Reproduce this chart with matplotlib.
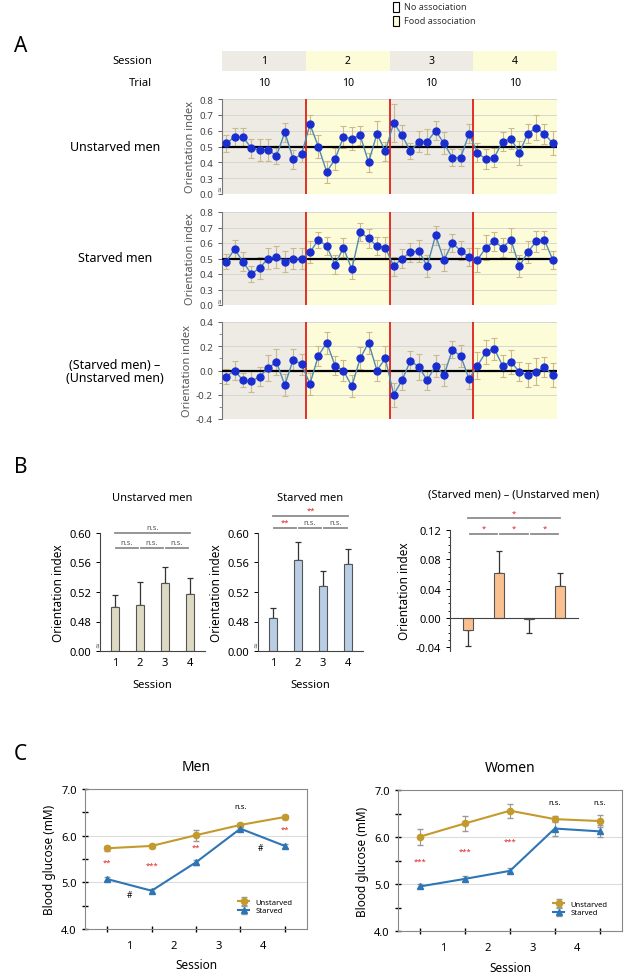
import numpy as np
import matplotlib
matplotlib.use('Agg')
import matplotlib.pyplot as plt
from matplotlib.patches import Rectangle
from matplotlib.ticker import MultipleLocator

plt.rcParams['font.family'] = ['Noto Sans', 'DejaVu Sans']

W, H = 625, 978

# ---- Panel A: orientation index per trial (4 sessions x 10 trials)
sessions = ['1', '2', '3', '4']
trials = ['10', '10', '10', '10']

unstarved = [0.52, 0.56, 0.56, 0.49, 0.48, 0.48, 0.44, 0.59, 0.42, 0.45,
             0.64, 0.50, 0.34, 0.42, 0.56, 0.55, 0.57, 0.40, 0.58, 0.47,
             0.65, 0.57, 0.47, 0.53, 0.53, 0.60, 0.52, 0.43, 0.43, 0.58,
             0.46, 0.42, 0.43, 0.53, 0.55, 0.46, 0.58, 0.62, 0.58, 0.52]
unstarved_err = [0.055, 0.06, 0.055, 0.06, 0.07, 0.07, 0.05, 0.06, 0.06, 0.05,
                 0.06, 0.07, 0.07, 0.07, 0.07, 0.075, 0.06, 0.06, 0.08, 0.06,
                 0.12, 0.065, 0.05, 0.065, 0.08, 0.06, 0.07, 0.055, 0.055, 0.06,
                 0.06, 0.065, 0.06, 0.06, 0.065, 0.075, 0.06, 0.08, 0.065, 0.075]

starved = [0.48, 0.56, 0.48, 0.40, 0.44, 0.50, 0.51, 0.48, 0.50, 0.50,
           0.54, 0.62, 0.58, 0.46, 0.57, 0.43, 0.67, 0.63, 0.58, 0.57,
           0.45, 0.50, 0.54, 0.55, 0.45, 0.65, 0.49, 0.60, 0.55, 0.51,
           0.49, 0.57, 0.61, 0.57, 0.62, 0.45, 0.54, 0.61, 0.62, 0.49]
starved_err = [0.05, 0.06, 0.06, 0.05, 0.07, 0.07, 0.07, 0.07, 0.07, 0.07,
               0.07, 0.05, 0.06, 0.06, 0.06, 0.06, 0.06, 0.06, 0.06, 0.07,
               0.06, 0.06, 0.06, 0.07, 0.07, 0.06, 0.07, 0.06, 0.06, 0.06,
               0.08, 0.08, 0.06, 0.06, 0.08, 0.07, 0.07, 0.07, 0.06, 0.06]

diff = [-0.05, 0.00, -0.08, -0.09, -0.05, 0.02, 0.07, -0.12, 0.09, 0.05,
        -0.11, 0.12, 0.23, 0.04, 0.00, -0.13, 0.10, 0.23, 0.00, 0.10,
        -0.20, -0.08, 0.08, 0.03, -0.08, 0.04, -0.04, 0.17, 0.12, -0.07,
        0.04, 0.15, 0.18, 0.04, 0.07, -0.01, -0.04, -0.01, 0.03, -0.04]
diff_err = [0.06, 0.08, 0.06, 0.09, 0.08, 0.11, 0.11, 0.09, 0.09, 0.09,
            0.09, 0.08, 0.09, 0.08, 0.09, 0.09, 0.09, 0.09, 0.09, 0.10,
            0.10, 0.08, 0.08, 0.11, 0.08, 0.09, 0.09, 0.07, 0.09, 0.08,
            0.11, 0.10, 0.09, 0.09, 0.10, 0.08, 0.10, 0.11, 0.08, 0.10]

# ---- Panel B: session means
b_sessions = [1, 2, 3, 4]
b_unstarved = [0.499, 0.503, 0.532, 0.517]
b_unstarved_err = [0.017, 0.031, 0.022, 0.022]
b_starved = [0.485, 0.564, 0.528, 0.558]
b_starved_err = [0.013, 0.024, 0.020, 0.020]
b_diff = [-0.016, 0.062, -0.001, 0.043]
b_diff_err = [0.022, 0.030, 0.020, 0.018]

# ---- Panel C: blood glucose at 5 time points
c_points = [0, 1, 2, 3, 4]
c_labels = ['1', '2', '3', '4']
men_unstarved = [5.73, 5.78, 6.01, 6.23, 6.40]
men_unstarved_err = [0.05, 0.04, 0.12, 0.04, 0.05]
men_starved = [5.07, 4.82, 5.43, 6.15, 5.78]
men_starved_err = [0.05, 0.04, 0.05, 0.04, 0.04]
men_sig = ['**', '***', '**', 'n.s.', '**']
men_sig_y = [5.44, 5.36, 5.75, 6.62, 6.13]

women_unstarved = [6.01, 6.29, 6.56, 6.38, 6.34]
women_unstarved_err = [0.17, 0.16, 0.15, 0.07, 0.13]
women_starved = [4.95, 5.11, 5.28, 6.18, 6.12]
women_starved_err = [0.04, 0.05, 0.05, 0.15, 0.13]
women_sig = ['***', '***', '***', 'n.s.', 'n.s.']
women_sig_y = [5.48, 5.70, 5.91, 6.74, 6.74]

GRAY_BG = '#eeebe5'
YELLOW_BG = '#fdfcd8'


def px_axes(fig, x0, y0, x1, y1):
    return fig.add_axes([x0 / W, 1 - y1 / H, (x1 - x0) / W, (y1 - y0) / H])


def trial_row(ax, vals, errs, broken=True):
    n = len(vals)
    x = np.arange(n) + 0.5
    for i in range(4):
        ax.axvspan(i * 10, (i + 1) * 10, color=GRAY_BG if i % 2 == 0 else YELLOW_BG, lw=0, zorder=0)
    if broken:
        ax.set_ylim(0.2, 0.8)
        ticks = np.arange(0.2, 0.81, 0.1)
        ax.set_yticks(ticks)
        ax.set_yticklabels(['0.0'] + ['%.1f' % t for t in ticks[1:]])
        ax.axhline(0.5, color='black', lw=1.6, zorder=3)
        ax.text(-0.2, 0.235, '≈', fontsize=5, color='#555555', ha='center', va='center',
                rotation=90, zorder=5)
    else:
        ax.set_ylim(-0.4, 0.4)
        ax.set_yticks([-0.4, -0.2, 0.0, 0.2, 0.4])
        ax.set_yticklabels(['-0.4', '-0.2', '0.0', '0.2', '0.4'])
        ax.yaxis.set_minor_locator(MultipleLocator(0.1))
        ax.axhline(0.0, color='black', lw=1.6, zorder=3)
    ax.grid(axis='y', color='#d8d6d0', lw=0.7, zorder=1)
    for b in [10, 20, 30]:
        ax.axvline(b, color='#e0201a', lw=1.3, zorder=4)
    ax.errorbar(x, vals, yerr=errs, fmt='none', ecolor='#c9b98c', elinewidth=0.8,
                capsize=2, capthick=0.8, zorder=2)
    ax.plot(x, vals, color='#4f8ab0', lw=1.0, zorder=4)
    ax.plot(x, vals, 'o', color='#1a2ed0', ms=5, zorder=5)
    ax.set_xlim(0, 40)
    ax.set_xticks([])
    for s in ['top', 'right', 'bottom']:
        ax.spines[s].set_visible(False)
    ax.spines['left'].set_color('#777777')
    ax.tick_params(axis='y', labelsize=7, colors='#444444', length=3, width=0.6)
    ax.tick_params(axis='y', which='minor', length=2, width=0.6, colors='#777777')
    ax.set_ylabel('Orientation index', fontsize=8, color='#555555', labelpad=2)


def sig_line(ax, x0, x1, y, label, color):
    ax.plot([x0, x1], [y[0], y[0]], color='#8c8c8c', lw=1.3, clip_on=False)
    ax.text((x0 + x1) / 2, y[1], label, ha='center', va='bottom', fontsize=5.5,
            color=color, clip_on=False)


def bar_panel(ax, vals, errs, color, title, broken=True):
    x = np.array(b_sessions)
    if broken:
        base = 0.44
        ax.bar(x, np.array(vals) - base, bottom=base, width=0.34, color=color,
               edgecolor='#555555', lw=0.8, zorder=2)
        ax.errorbar(x, vals, yerr=[[0] * 4, errs], fmt='none', ecolor='#333333',
                    elinewidth=0.9, capsize=2.5, capthick=0.9, zorder=1)
        ax.set_ylim(0.44, 0.60)
        ticks = [0.44, 0.48, 0.52, 0.56, 0.60]
        ax.set_yticks(ticks)
        ax.set_yticklabels(['0.00', '0.48', '0.52', '0.56', '0.60'])
        ax.text(0.35, 0.445, '≈', fontsize=5, color='#555555', ha='center', va='bottom',
                rotation=90)
    else:
        ax.bar(x, vals, width=0.34, color=color, edgecolor='#555555', lw=0.8, zorder=2)
        lower = [e if v < 0 else 0 for v, e in zip(vals, errs)]
        upper = [e if v >= 0 else 0 for v, e in zip(vals, errs)]
        ax.errorbar(x, vals, yerr=[lower, upper], fmt='none', ecolor='#333333',
                    elinewidth=0.9, capsize=2.5, capthick=0.9, zorder=1)
        ax.set_ylim(-0.045, 0.12)
        ax.set_yticks([-0.04, 0.0, 0.04, 0.08, 0.12])
        ax.set_yticklabels(['-0.04', '0.00', '0.04', '0.08', '0.12'])
        ax.yaxis.set_minor_locator(MultipleLocator(0.01))
        ax.spines['bottom'].set_position(('data', 0))
    ax.set_xlim(0.4, 4.6)
    ax.set_xticks(x)
    ax.set_xticklabels(['1', '2', '3', '4'])
    ax.tick_params(axis='x', length=0, labelsize=8, pad=4 if broken else 0)
    if not broken:
        for lab in ax.get_xticklabels():
            lab.set_y(-0.3)
    ax.tick_params(axis='y', labelsize=8, length=3, width=0.7)
    ax.tick_params(axis='y', which='minor', length=1.5, width=0.6)
    for s in ['top', 'right']:
        ax.spines[s].set_visible(False)
    ax.spines['left'].set_color('#444444')
    ax.spines['bottom'].set_color('#444444')
    ax.set_ylabel('Orientation index', fontsize=8.5, labelpad=3)
    ax.set_xlabel('Session', fontsize=8, labelpad=8)
    ax.set_title(title, fontsize=8, pad=24)


def glucose_panel(ax, unst, unst_err, stv, stv_err, sig, sig_y, title):
    x = np.array(c_points)
    ax.axhline(5.0, color='#dcdcdc', lw=0.8, zorder=0)
    ax.axhline(6.0, color='#dcdcdc', lw=0.8, zorder=0)
    ax.errorbar(x, unst, yerr=unst_err, color='#c49a2c', ecolor='#999999', lw=1.5,
                marker='o', ms=4.5, capsize=2, elinewidth=0.8, label='Unstarved', zorder=3)
    ax.errorbar(x, stv, yerr=stv_err, color='#2e75b6', ecolor='#999999', lw=1.5,
                marker='^', ms=5, capsize=2, elinewidth=0.8, label='Starved', zorder=3)
    for xi, lab, yi in zip(x, sig, sig_y):
        col = 'black' if lab == 'n.s.' else '#e02020'
        ax.text(xi, yi, lab, ha='center', va='center', fontsize=5.5, color=col)
    ax.set_xlim(-0.5, 4.5)
    ax.set_ylim(4.0, 7.0)
    ax.set_xticks(x)
    ax.set_xticklabels([''] * 5)
    ax.set_xticks(np.array(x[:-1]) + 0.5, minor=True)
    ax.set_xticklabels(c_labels, minor=True)
    ax.tick_params(axis='x', which='major', direction='inout', length=5, width=1)
    ax.tick_params(axis='x', which='minor', length=0, labelsize=8, pad=8)
    ax.set_yticks([4.0, 5.0, 6.0, 7.0])
    ax.set_yticklabels(['4.0', '5.0', '6.0', '7.0'])
    ax.yaxis.set_minor_locator(MultipleLocator(0.5))
    ax.tick_params(axis='y', which='both', direction='inout', length=5, width=1, labelsize=8)
    for s in ax.spines.values():
        s.set_color('#888888')
    ax.set_ylabel('Blood glucose (mM)', fontsize=8.5)
    ax.set_xlabel('Session', fontsize=8.5)
    ax.xaxis.set_label_coords(0.5, -0.21)
    ax.set_title(title, fontsize=10, pad=14)
    ax.legend(loc='lower right', fontsize=5.5, frameon=False, handlelength=1.5,
              borderaxespad=1.5, labelspacing=0.2)


def main():
    fig = plt.figure(figsize=(W / 100, H / 100), dpi=100)

    # legend for session shading
    for txt, col, y in [('No association', 'white', 8), ('Food association', YELLOW_BG, 22)]:
        fig.add_artist(Rectangle((393 / W, 1 - (y + 5) / H), 6 / W, 10 / H,
                                 transform=fig.transFigure, facecolor=col,
                                 edgecolor='black', lw=0.8))
        fig.text(404 / W, 1 - y / H, txt, fontsize=6.5, va='center', color='#333333')

    fig.text(14 / W, 1 - 47 / H, 'A', fontsize=15, va='center')
    fig.text(14 / W, 1 - 468 / H, 'B', fontsize=15, va='center')
    fig.text(14 / W, 1 - 755 / H, 'C', fontsize=15, va='center')

    # session / trial header
    hdr = px_axes(fig, 222, 52, 557, 92)
    hdr.set_xlim(0, 40)
    hdr.set_ylim(0, 2)
    for i, (s, t) in enumerate(zip(sessions, trials)):
        hdr.add_patch(Rectangle((i * 10, 1), 10, 1, color=GRAY_BG if i % 2 == 0 else YELLOW_BG, lw=0))
        hdr.text(i * 10 + 5, 1.5, s, ha='center', va='center', fontsize=7.5)
        hdr.text(i * 10 + 5, 0.45, t, ha='center', va='center', fontsize=7.5)
    hdr.axis('off')
    fig.text(152 / W, 1 - 62 / H, 'Session', fontsize=8, ha='right', va='center')
    fig.text(152 / W, 1 - 83 / H, 'Trial', fontsize=8, ha='right', va='center')

    ax1 = px_axes(fig, 222, 100, 557, 195)
    trial_row(ax1, unstarved, unstarved_err)
    ax2 = px_axes(fig, 222, 213, 557, 306)
    trial_row(ax2, starved, starved_err)
    ax3 = px_axes(fig, 222, 323, 557, 420)
    trial_row(ax3, diff, diff_err, broken=False)

    fig.text(115 / W, 1 - 148 / H, 'Unstarved men', fontsize=9, ha='center', va='center')
    fig.text(115 / W, 1 - 258 / H, 'Starved men', fontsize=9, ha='center', va='center')
    fig.text(115 / W, 1 - 372 / H, '(Starved men) \u2013\n(Unstarved men)', fontsize=9,
             ha='center', va='center', linespacing=1.0)

    # panel B
    bx1 = px_axes(fig, 100, 534, 205, 652)
    bar_panel(bx1, b_unstarved, b_unstarved_err, '#ddd9c3', 'Unstarved men')
    sig_line(bx1, 1, 4, (0.600, 0.603), 'n.s.', '#555555')
    for i in range(3):
        sig_line(bx1, b_sessions[i] + 0.05, b_sessions[i] + 0.9, (0.579, 0.582), 'n.s.', '#555555')

    bx2 = px_axes(fig, 258, 534, 363, 652)
    bar_panel(bx2, b_starved, b_starved_err, '#b9cde5', 'Starved men')
    sig_line(bx2, 1, 4, (0.623, 0.626), '**', '#e02020')
    sig_line(bx2, 1.05, 1.9, (0.607, 0.610), '**', '#e02020')
    sig_line(bx2, 2.05, 2.9, (0.607, 0.610), 'n.s.', '#555555')
    sig_line(bx2, 3.05, 3.95, (0.607, 0.610), 'n.s.', '#555555')

    bx3 = px_axes(fig, 450, 531, 578, 652)
    bar_panel(bx3, b_diff, b_diff_err, '#fac090', '(Starved men) \u2013 (Unstarved men)',
              broken=False)
    sig_line(bx3, 1, 4, (0.136, 0.138), '*', '#e02020')
    for i in range(3):
        sig_line(bx3, b_sessions[i] + 0.05, b_sessions[i] + 0.95, (0.115, 0.117), '*', '#e02020')

    # panel C
    cx1 = px_axes(fig, 85, 790, 307, 930)
    glucose_panel(cx1, men_unstarved, men_unstarved_err, men_starved, men_starved_err,
                  men_sig, men_sig_y, 'Men')
    cx1.text(0.5, 4.73, '#', ha='center', va='center', fontsize=6)
    cx1.text(3.45, 5.75, '#', ha='center', va='center', fontsize=6)
    cx2 = px_axes(fig, 398, 791, 622, 932)
    glucose_panel(cx2, women_unstarved, women_unstarved_err, women_starved, women_starved_err,
                  women_sig, women_sig_y, 'Women')

    fig.savefig('out.png', dpi=100)


if __name__ == '__main__':
    main()
